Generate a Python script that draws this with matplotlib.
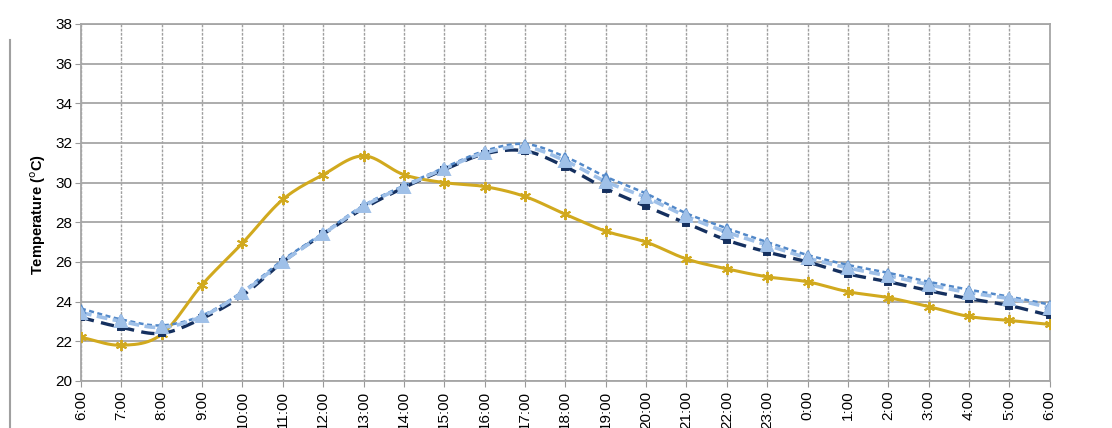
import numpy as np
import matplotlib
matplotlib.use("Agg")
import matplotlib.pyplot as plt
from matplotlib.lines import Line2D

plt.rcParams["font.family"] = ["Liberation Sans", "DejaVu Sans"]

hours = ["6:00", "7:00", "8:00", "9:00", "10:00", "11:00", "12:00", "13:00",
         "14:00", "15:00", "16:00", "17:00", "18:00", "19:00", "20:00", "21:00",
         "22:00", "23:00", "0:00", "1:00", "2:00", "3:00", "4:00", "5:00", "6:00"]

navy = [23.2, 22.7, 22.4, 23.15, 24.3, 26.0, 27.4, 28.7, 29.75, 30.65, 31.45, 31.6,
        30.8, 29.7, 28.8, 27.95, 27.1, 26.5, 26.0, 25.4, 25.0, 24.55, 24.15, 23.8, 23.3]
mid_blue = [23.65, 23.1, 22.8, 23.3, 24.5, 26.1, 27.45, 28.85, 29.85, 30.75, 31.6, 31.95,
            31.3, 30.3, 29.45, 28.45, 27.7, 27.0, 26.35, 25.85, 25.45, 25.0, 24.6, 24.25, 23.85]
light_blue = [23.45, 23.0, 22.7, 23.25, 24.45, 26.0, 27.4, 28.8, 29.8, 30.7, 31.5, 31.8,
              31.1, 30.05, 29.25, 28.3, 27.5, 26.85, 26.2, 25.7, 25.3, 24.85, 24.45, 24.15, 23.7]
gold = [22.2, 21.8, 22.35, 24.85, 26.95, 29.15, 30.4, 31.35, 30.4, 30.0, 29.8, 29.3,
        28.4, 27.55, 27.0, 26.15, 25.65, 25.25, 25.0, 24.5, 24.2, 23.75, 23.25, 23.05, 22.85]


def smooth(x, y, n=12):
    # Catmull-Rom curve through the points, like Excel's "smoothed line"
    x = np.asarray(x, float)
    y = np.asarray(y, float)
    px = np.concatenate([[2 * x[0] - x[1]], x, [2 * x[-1] - x[-2]]])
    py = np.concatenate([[2 * y[0] - y[1]], y, [2 * y[-1] - y[-2]]])
    t = np.linspace(0, 1, n, endpoint=False)
    xs, ys = [], []
    for i in range(1, len(px) - 2):
        for p, out in ((px, xs), (py, ys)):
            p0, p1, p2, p3 = p[i - 1], p[i], p[i + 1], p[i + 2]
            out.extend(0.5 * (2 * p1 + (-p0 + p2) * t
                              + (2 * p0 - 5 * p1 + 4 * p2 - p3) * t ** 2
                              + (-p0 + 3 * p1 - 3 * p2 + p3) * t ** 3))
    xs.append(x[-1])
    ys.append(y[-1])
    return np.array(xs), np.array(ys)


fig = plt.figure(figsize=(11.12, 4.28), dpi=100)
ax = fig.add_axes([0.0728, 0.110, 0.8712, 0.834])

x = np.arange(len(hours))

series = [
    (gold, "#d1a91e", "-", None, (6, 2, 0), 8, 2.2),
    (navy, "#15305f", "--", (4, 2.2), "s", 5, 2.4),
    (mid_blue, "#5288c8", "--", (2, 1.4), "^", 6, 1.8),
    (light_blue, "#9fc0e8", "--", (3, 1.5), "^", 8, 2.6),
]
for vals, col, ls, dash, mk, ms, lw in series:
    sx, sy = smooth(x, vals)
    line, = ax.plot(sx, sy, color=col, linestyle=ls, linewidth=lw, zorder=3)
    if dash is not None:
        line.set_dashes(dash)
    ax.plot(x, vals, linestyle="none", marker=mk, markersize=ms, color=col,
            markeredgecolor=col, markeredgewidth=1.4, zorder=4)

ax.set_xlim(0, len(hours) - 1)
ax.set_ylim(20, 38)
ax.set_yticks(np.arange(20, 39, 2))
ax.set_xticks(x)
ax.set_xticklabels(hours, rotation=90, fontsize=11)
ax.tick_params(axis="y", labelsize=11, length=4, color="#999999", pad=2)
ax.tick_params(axis="x", length=4, color="#999999", pad=3)

ax.grid(axis="y", color="#a6a6a6", linewidth=1.3)
ax.grid(axis="x", color="#a0a0a0", linewidth=1.0, linestyle=(0, (2, 1)))
ax.set_axisbelow(True)
for s in ax.spines.values():
    s.set_color("#a6a6a6")
    s.set_linewidth(1.3)

ax.set_ylabel("Temperature ($^{\\mathrm{o}}$C)", fontsize=10.5, fontweight="bold")
ax.yaxis.set_label_coords(-0.034, 0.465)

# border of the surrounding picture on the left
fig.add_artist(Line2D([10 / 1112, 10 / 1112], [0, 1 - 40 / 428],
                      transform=fig.transFigure, color="#a0a0a0", linewidth=1.5))

fig.savefig("out.png", dpi=100)
